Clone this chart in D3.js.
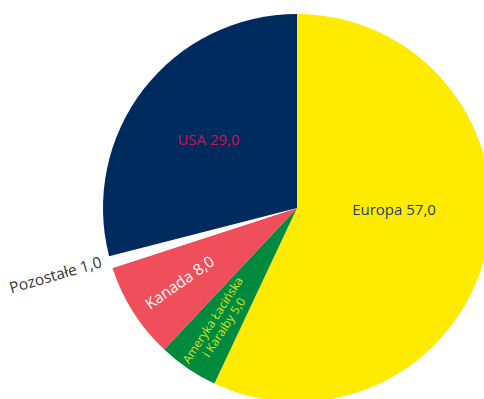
<!DOCTYPE html>
<html><head><meta charset="utf-8">
<script src="https://cdn.jsdelivr.net/npm/d3@7"></script>
<style>body{margin:0;background:#fff}svg{display:block}</style>
</head><body>
<svg id="c" width="484" height="399"></svg>
<script>
const categories = ["Europa", "Ameryka Łacińska i Karaiby", "Kanada", "Pozostałe", "USA"];
const values = [57.0, 5.0, 8.0, 1.0, 29.0];
const labelLines = [["Europa 57,0"], ["Ameryka Łacińska", "i Karaiby 5,0"], ["Kanada 8,0"], ["Pozostałe 1,0"], ["USA 29,0"]];

const colors = ["#ffeb00", "#008a3e", "#f04e5a", "#ffffff", "#002b5e"];
const textColors = ["#1e3a6d", "#d8e020", "#ffffff", "#333333", "#d0104c"];
const fontSizes = [15, 12, 15.5, 15.5, 15];

const svg = d3.select("#c");
const cx = 297, cy = 208, r = 194;
const g = svg.append("g").attr("transform", `translate(${cx},${cy})`);
const pie = d3.pie().sort(null).value(d => d).startAngle(0);
const arcs = pie(values);
const arc = d3.arc().innerRadius(0).outerRadius(r);

g.selectAll("path").data(arcs).join("path")
  .attr("d", arc).attr("fill", (d, i) => colors[i]);

const font = "'Open Sans', 'Noto Sans', sans-serif";
function polar(a, rad) { return [Math.sin(a) * rad, -Math.cos(a) * rad]; }

arcs.forEach((d, i) => {
  const mid = (d.startAngle + d.endAngle) / 2;
  let x, y, rot = 0, anchor = "middle";
  if (i === 0) { [x, y] = [r * 0.5, 2]; }
  else if (i === 4) { [x, y] = polar(mid, 112); }
  else if (i === 2) { [x, y] = polar(mid, 139); rot = -35; }
  else if (i === 1) { [x, y] = polar(mid, 140); rot = -57; }
  else if (i === 3) { [x, y] = polar(mid, 203); rot = mid * 180 / Math.PI - 270; anchor = "end"; }
  const t = g.append("text")
    .attr("transform", `translate(${x},${y}) rotate(${rot})`)
    .attr("text-anchor", anchor)
    .attr("fill", textColors[i])
    .attr("font-family", font)
    .attr("font-size", fontSizes[i]);
  const lines = labelLines[i];
  const lh = fontSizes[i] * 1.12;
  lines.forEach((ln, k) => {
    t.append("tspan").attr("x", 0)
      .attr("y", (k - (lines.length - 1) / 2) * lh)
      .attr("dy", i === 3 ? "0.15em" : "0.35em")
      .text(ln);
  });
});
</script>
</body></html>
